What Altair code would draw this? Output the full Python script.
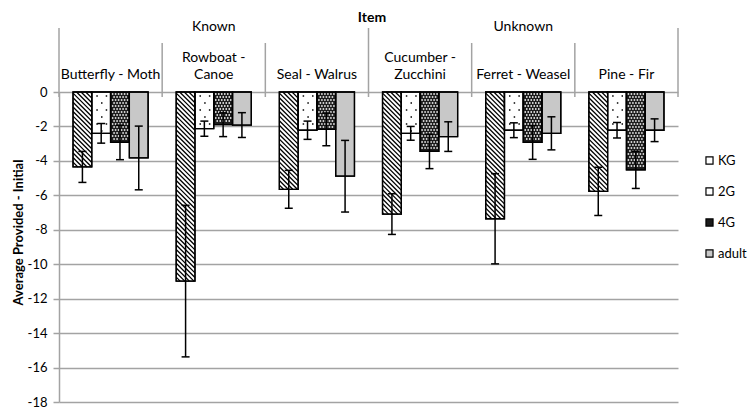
import altair as alt
import pandas as pd

# ---------------- data ----------------
items = ["Butterfly - Moth", "Rowboat - Canoe", "Seal - Walrus",
         "Cucumber - Zucchini", "Ferret - Weasel", "Pine - Fir"]
item_labels = ["Butterfly - Moth", "Rowboat -\nCanoe", "Seal - Walrus",
               "Cucumber -\nZucchini", "Ferret - Weasel", "Pine - Fir"]
groups = ["Known", "Unknown"]
series = ["KG", "2G", "4G", "adult"]

kg_mean = [-4.35, -10.98, -5.65, -7.09, -7.36, -5.77]
g2_mean = [-2.40, -2.13, -2.22, -2.40, -2.22, -2.22]
g4_mean = [-2.93, -1.90, -2.17, -3.45, -2.93, -4.52]
adult_mean = [-3.83, -1.92, -4.89, -2.59, -2.40, -2.22]

kg_err = [0.90, 4.40, 1.10, 1.18, 2.62, 1.40]
g2_err = [0.57, 0.44, 0.53, 0.40, 0.43, 0.45]
g4_err = [1.00, 0.69, 0.95, 1.00, 0.98, 1.08]
adult_err = [1.85, 0.72, 2.08, 0.86, 0.96, 0.66]

y_ticks = list(range(-18, 1, 2))

# ---------------- layout ----------------
W, H = 619, 310
XU = W / len(items)          # px per category unit
YU = H / 18.0                # px per value unit
BW = 0.182                   # bar width in category units
OFF = (1 - len(series) * BW) / 2
FONT = "Lato"
GRID = "#a3a3a3"

means = [kg_mean, g2_mean, g4_mean, adult_mean]
errs = [kg_err, g2_err, g4_err, adult_err]

rows = []
for i, it in enumerate(items):
    for j, s in enumerate(series):
        v = means[j][i]
        e = errs[j][i]
        x0 = i + OFF + j * BW
        rows.append(dict(item=it, series=s, value=v, err=e, zero=0.0,
                         x0=x0, x1=x0 + BW, xc=x0 + BW / 2,
                         lo=v - e, hi=v + e))
bars = pd.DataFrame(rows)

cw = 4.0 / XU
caps = pd.concat([
    bars.assign(cy=bars["lo"]), bars.assign(cy=bars["hi"])
])
caps = caps.assign(cx0=caps["xc"] - cw, cx1=caps["xc"] + cw)

# hatch for KG bars (backslash diagonals)
hatch = []
for r in bars[bars.series == "KG"].itertuples():
    w = BW * XU
    h = -r.value * YU
    s = 4.6
    c = -w + 1.5
    while c < h:
        pa = max(0.0, -c)
        pb = min(w, h - c)
        if pb - pa > 0.4:
            hatch.append(dict(hx0=r.x0 + pa / XU, hy0=-(pa + c) / YU,
                              hx1=r.x0 + pb / XU, hy1=-(pb + c) / YU))
        c += s
hatch = pd.DataFrame(hatch)

# sparse dots for 2G bars
dots2 = []
for r in bars[bars.series == "2G"].itertuples():
    w = BW * XU
    h = -r.value * YU
    k = 0
    py = 4.0
    while py < h - 2:
        xs = [0.28 * w, 0.78 * w] if k % 2 == 0 else [0.53 * w]
        for px in xs:
            dots2.append(dict(dx=r.x0 + px / XU, dy=-py / YU))
        py += 7.0
        k += 1
dots2 = pd.DataFrame(dots2)

# white lattice for 4G bars
dots4 = []
for r in bars[bars.series == "4G"].itertuples():
    w = BW * XU
    h = -r.value * YU
    py = 2.0
    b = 0
    while py < h - 1.2:
        px = 2.0 + (b % 2) * 1.5
        while px < w - 1.2:
            dots4.append(dict(dx=r.x0 + px / XU, dy=-py / YU))
            px += 3.0
        py += 3.0
        b += 1
dots4 = pd.DataFrame(dots4)

hdr_items = pd.DataFrame(dict(label=item_labels,
                              nlines=[l.count("\n") + 1 for l in item_labels],
                              xc=[i + 0.5 for i in range(len(items))]))
hdr_groups = pd.DataFrame(dict(label=groups,
                               xc=[g * 3 + 1.5 for g in range(len(groups))]))
bounds = pd.DataFrame(dict(b=list(range(len(items) + 1))))
outer = bounds[bounds.b % 3 == 0]
inner = bounds[bounds.b % 3 != 0]

xs = alt.Scale(domain=[0, len(items)], nice=False, zero=False)
ys = alt.Scale(domain=[-18, 0], nice=False, zero=False)
yaxis = alt.Axis(values=y_ticks, labelExpr="'' + datum.value",
                 title="Average Provided - Initial", titleFontSize=13,
                 titleFontWeight="bold", titleFont=FONT, titleX=-34,
                 titleY=140, titleColor="black",
                 labelFont=FONT, labelFontSize=13, labelColor="black",
                 labelPadding=6, tickSize=6, tickColor=GRID, tickWidth=1.5,
                 domainColor=GRID, domainWidth=1.5,
                 grid=True, gridColor=GRID, gridWidth=1.5)


def X(f):
    return alt.X(f, type="quantitative", scale=xs, axis=None)


def Y(f):
    return alt.Y(f, type="quantitative", scale=ys, axis=yaxis)


shadow = alt.Chart(bars).mark_rect(fill="#666666", opacity=0.35,
                                   xOffset=2.5, yOffset=2.5).encode(
    x=X("x0"), x2="x1", y=Y("zero"), y2="value")

bar = alt.Chart(bars).mark_rect(stroke="black", strokeWidth=1.3).encode(
    x=X("x0"), x2="x1", y=Y("zero"), y2="value",
    fill=alt.Fill("series:N",
                  scale=alt.Scale(domain=series,
                                  range=["white", "white", "#1c1c1c", "#c8c8c8"]),
                  legend=alt.Legend(orient="none", legendX=644, legendY=62,
                                    title=None, symbolType="square",
                                    symbolSize=50, symbolStrokeColor="black",
                                    symbolStrokeWidth=1.2, labelFont=FONT,
                                    labelFontSize=13, labelColor="black",
                                    rowPadding=17, labelOffset=2, padding=0)))

hatch_l = alt.Chart(hatch).mark_rule(color="black", strokeWidth=1.3).encode(
    x=X("hx0"), x2="hx1", y=Y("hy0"), y2="hy1")

dots2_l = alt.Chart(dots2).mark_square(size=2.2, color="black",
                                       opacity=1).encode(
    x=X("dx"), y=Y("dy"))

dots4_l = alt.Chart(dots4).mark_square(size=2.4, color="white",
                                       opacity=1).encode(
    x=X("dx"), y=Y("dy"))

outline = alt.Chart(bars).mark_rect(fill=None, stroke="black",
                                    strokeWidth=1.3).encode(
    x=X("x0"), x2="x1", y=Y("zero"), y2="value")

ebar = alt.Chart(bars).mark_rule(color="black", strokeWidth=1.5).encode(
    x=X("xc"), y=Y("lo"), y2="hi")

ecap = alt.Chart(caps).mark_rule(color="black", strokeWidth=1.5).encode(
    x=X("cx0"), x2="cx1", y=Y("cy"))

sep_outer = alt.Chart(outer).mark_rule(color=GRID, strokeWidth=1.5).encode(
    x=X("b"), y=alt.value(-64), y2=alt.value(5))
sep_inner = alt.Chart(inner).mark_rule(color=GRID, strokeWidth=1.5).encode(
    x=X("b"), y=alt.value(-49), y2=alt.value(5))

t_items1 = alt.Chart(hdr_items).transform_filter(
    alt.datum.nlines == 1).mark_text(
    font=FONT, fontSize=14, color="black", baseline="bottom").encode(
    x=X("xc"), y=alt.value(-10), text="label")

t_items2 = alt.Chart(hdr_items).transform_filter(
    alt.datum.nlines == 2).mark_text(
    font=FONT, fontSize=14, color="black", baseline="bottom",
    lineBreak="\n", lineHeight=17).encode(
    x=X("xc"), y=alt.value(-27), text="label")

t_groups = alt.Chart(hdr_groups).mark_text(
    font=FONT, fontSize=14, color="black", baseline="middle").encode(
    x=X("xc"), y=alt.value(-65), text="label")

t_title = alt.Chart(pd.DataFrame(dict(label=["Item"]))).mark_text(
    font=FONT, fontSize=14, fontWeight="bold", color="black",
    baseline="middle").encode(
    x=alt.value(313), y=alt.value(-74), text="label")

chart = alt.layer(
    shadow, bar, hatch_l, dots2_l, dots4_l, outline, ebar, ecap,
    sep_outer, sep_inner, t_items1, t_items2, t_groups, t_title
).properties(
    width=W, height=H,
    autosize=alt.AutoSizeParams(type="none"),
    padding={"left": 51, "top": 84, "right": 70, "bottom": 7},
    background="white",
).configure_view(stroke=None)

chart.save("out.html", embed_options={"renderer": "svg", "actions": False})
